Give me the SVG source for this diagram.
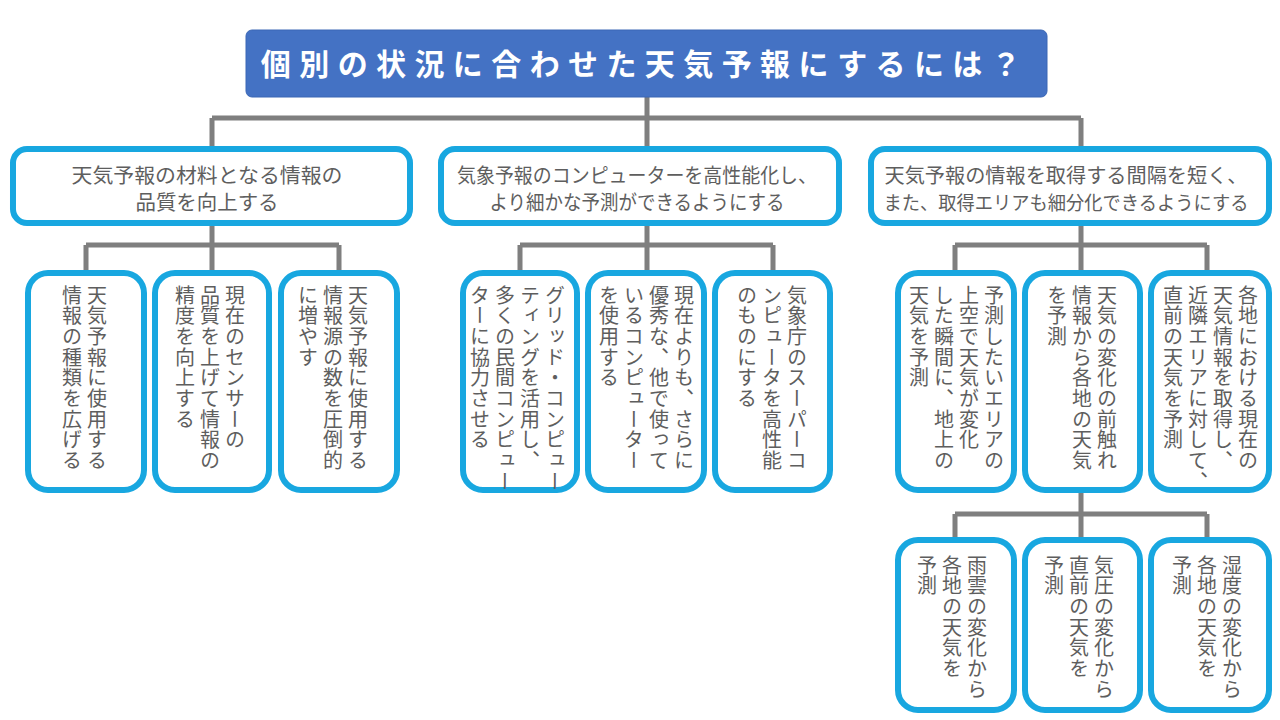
<svg xmlns="http://www.w3.org/2000/svg" width="1280" height="720" viewBox="0 0 1280 720">
<style>
.bg{fill:#ffffff}
.title-box{fill:#4472C4;stroke:#3A66B5;stroke-width:1}
.title{font-family:"Noto Sans CJK JP","Noto Sans",sans-serif;font-weight:bold;font-size:30px;fill:#ffffff;letter-spacing:8.4px}
.box{fill:#ffffff;stroke:#18A7E0;stroke-width:6}
.h{font-family:"Noto Sans CJK JP","Noto Sans",sans-serif;font-size:20px;fill:#5E5E5E}
.v{font-family:"Noto Sans CJK JP","Noto Sans",sans-serif;font-size:20px;fill:#5E5E5E;writing-mode:vertical-rl;letter-spacing:0.7px}
.conn{fill:none;stroke:#7F7F7F;stroke-width:5}
</style>
<rect class="bg" x="0" y="0" width="1280" height="720"/>
<g id="connectors">
<path class="conn" d="M647 97 V118 M212 118 H1081 M212 118 V148 M647 118 V148 M1081 118 V148"/>
<path class="conn" d="M212 224 V245 M86 245 H339 M86 245 V272 M212 245 V272 M339 245 V272"/>
<path class="conn" d="M647 224 V245 M520 245 H773 M520 245 V272 M647 245 V272 M773 245 V272"/>
<path class="conn" d="M1081 224 V245 M955 245 H1207 M955 245 V272 M1081 245 V272 M1207 245 V272"/>
<path class="conn" d="M1081 492 V514 M955 514 H1207 M955 514 V539 M1081 514 V539 M1207 514 V539"/>
</g>
<g id="title">
<rect class="title-box" x="246" y="30" width="801" height="67" rx="6"/>
<text class="title" x="645" y="75" text-anchor="middle">個別の状況に合わせた天気予報にするには？</text>
</g>
<g id="n-a">
<rect class="box" x="13" y="149" width="397" height="74" rx="14"/>
<text class="h" x="207" y="183" text-anchor="middle" textLength="271" lengthAdjust="spacingAndGlyphs">天気予報の材料となる情報の</text>
<text class="h" x="207" y="210" text-anchor="middle" textLength="143" lengthAdjust="spacingAndGlyphs">品質を向上する</text>
</g>
<g id="n-b">
<rect class="box" x="441" y="149" width="398" height="74" rx="14"/>
<text class="h" x="637" y="183" text-anchor="middle" textLength="360" lengthAdjust="spacingAndGlyphs">気象予報のコンピューターを高性能化し、</text>
<text class="h" x="637" y="210" text-anchor="middle" textLength="295" lengthAdjust="spacingAndGlyphs">より細かな予測ができるようにする</text>
</g>
<g id="n-c">
<rect class="box" x="871" y="149" width="398" height="74" rx="14"/>
<text class="h" x="1066" y="183" text-anchor="middle" textLength="363" lengthAdjust="spacingAndGlyphs">天気予報の情報を取得する間隔を短く、</text>
<text class="h" x="1066" y="210" text-anchor="middle" style="font-size:19px" textLength="365" lengthAdjust="spacingAndGlyphs">また、取得エリアも細分化できるようにする</text>
</g>
<g id="n-a1">
<rect class="box" x="28" y="273" width="116" height="217" rx="20"/>
<text class="v" x="97" y="285">天気予報に使用する</text>
<text class="v" x="72" y="285">情報の種類を広げる</text>
</g>
<g id="n-a2">
<rect class="box" x="155" y="273" width="114" height="217" rx="20"/>
<text class="v" x="235" y="285">現在のセンサーの</text>
<text class="v" x="210" y="285">品質を上げて情報の</text>
<text class="v" x="185" y="285">精度を向上する</text>
</g>
<g id="n-a3">
<rect class="box" x="281" y="273" width="116" height="217" rx="20"/>
<text class="v" x="358" y="285">天気予報に使用する</text>
<text class="v" x="333" y="285">情報源の数を圧倒的</text>
<text class="v" x="308" y="285">に増やす</text>
</g>
<g id="n-b1">
<rect class="box" x="463" y="273" width="114" height="217" rx="20"/>
<text class="v" x="555" y="285">グリッド・コンピュー</text>
<text class="v" x="530" y="285">ティングを活用し、</text>
<text class="v" x="505" y="285">多くの民間コンピュー</text>
<text class="v" x="480" y="285">ターに協力させる</text>
</g>
<g id="n-b2">
<rect class="box" x="588" y="273" width="116" height="217" rx="20"/>
<text class="v" x="684" y="285">現在よりも、さらに</text>
<text class="v" x="659" y="285">優秀な、他で使って</text>
<text class="v" x="634" y="285">いるコンピューター</text>
<text class="v" x="609" y="285">を使用する</text>
</g>
<g id="n-b3">
<rect class="box" x="715" y="273" width="115" height="217" rx="20"/>
<text class="v" x="797" y="285">気象庁のスーパーコ</text>
<text class="v" x="772" y="285">ンピュータを高性能</text>
<text class="v" x="747" y="285">のものにする</text>
</g>
<g id="n-c1">
<rect class="box" x="898" y="273" width="116" height="217" rx="20"/>
<text class="v" x="994" y="285">予測したいエリアの</text>
<text class="v" x="969" y="285">上空で天気が変化</text>
<text class="v" x="944" y="285">した瞬間に、地上の</text>
<text class="v" x="919" y="285">天気を予測</text>
</g>
<g id="n-c2">
<rect class="box" x="1025" y="273" width="115" height="217" rx="20"/>
<text class="v" x="1107" y="285">天気の変化の前触れ</text>
<text class="v" x="1082" y="285">情報から各地の天気</text>
<text class="v" x="1057" y="285">を予測</text>
</g>
<g id="n-c3">
<rect class="box" x="1151" y="273" width="118" height="217" rx="20"/>
<text class="v" x="1248" y="285">各地における現在の</text>
<text class="v" x="1223" y="285">天気情報を取得し、</text>
<text class="v" x="1198" y="285">近隣エリアに対して、</text>
<text class="v" x="1173" y="285">直前の天気を予測</text>
</g>
<g id="n-d1">
<rect class="box" x="898" y="540" width="116" height="170" rx="20"/>
<text class="v" x="977" y="555">雨雲の変化から</text>
<text class="v" x="952" y="555">各地の天気を</text>
<text class="v" x="927" y="555">予測</text>
</g>
<g id="n-d2">
<rect class="box" x="1025" y="540" width="115" height="170" rx="20"/>
<text class="v" x="1104" y="555">気圧の変化から</text>
<text class="v" x="1079" y="555">直前の天気を</text>
<text class="v" x="1054" y="555">予測</text>
</g>
<g id="n-d3">
<rect class="box" x="1151" y="540" width="118" height="170" rx="20"/>
<text class="v" x="1232" y="555">湿度の変化から</text>
<text class="v" x="1207" y="555">各地の天気を</text>
<text class="v" x="1182" y="555">予測</text>
</g>
</svg>
